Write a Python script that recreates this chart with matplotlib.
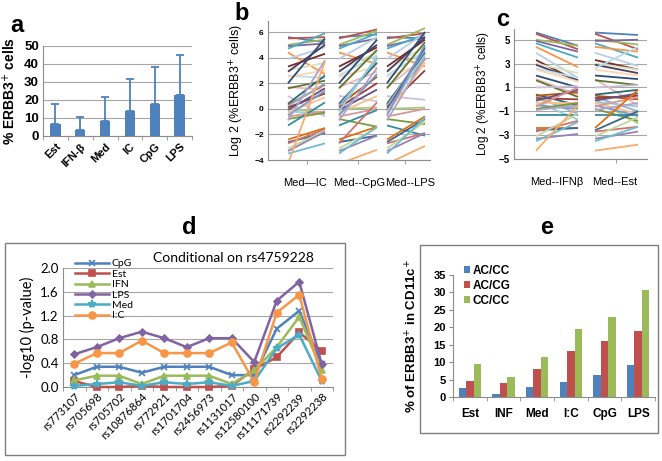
import numpy as np
import matplotlib
matplotlib.use("Agg")
import matplotlib.pyplot as plt
from matplotlib.patches import Rectangle

W, H = 662, 461
plt.rcParams['font.family'] = ['Liberation Sans', 'DejaVu Sans']

# ---- panel a: mean % ERBB3+ cells with upper error bars
a_cats = ['Est', 'IFN-β', 'Med', 'IC', 'CpG', 'LPS']
a_mean = [6.5, 3.5, 8.5, 14.0, 17.5, 22.5]
a_err = [11.5, 6.8, 13.3, 17.5, 21.0, 22.5]

# ---- panels b, c: per-donor log2(% ERBB3+) medium vs stimulated
med = [5.6, 5.5, 5.0, 4.9, 4.7, 4.4, 3.9, 3.3, 3.0, 2.9, 2.6, 2.5, 2.0, 1.7, 1.6, 1.0, 0.4, 0.3,
       0.2, 0.1, 0.0, -0.1, -0.2, -0.3, -0.5, -0.6, -0.8, -0.9, -1.3, -2.4, -2.6, -2.7, -3.1, -3.3, -3.5, -4.3]
ic = [5.2, 5.6, 5.4, 5.1, 5.9, 2.7, 4.8, 4.3, 3.6, 5.0, 2.4, 3.0, 5.5, 1.5, 2.2, -0.6, 2.6, 1.9,
      2.0, 1.2, -0.3, 1.6, -0.4, 0.9, 1.4, -0.2, -0.3, 3.8, 0.5, -1.5, -1.9, -1.6, -1.7, -1.8, -2.7, 3.7]
cpg = [5.8, 6.2, 6.1, 5.5, 5.9, 3.5, 5.6, 4.8, 4.4, 5.0, 4.2, 3.3, 5.4, 2.9, 4.6, 0.6, 3.6, 2.5,
       3.9, 2.0, 0.1, 1.5, 4.1, 1.0, 2.7, 0.0, -1.4, 3.2, -0.1, -1.4, -2.1, 0.5, -1.5, -2.1, -1.4, -3.2]
lps = [5.5, 5.9, 6.3, 5.6, 5.8, 3.3, 5.9, 5.4, 4.9, 5.6, 4.5, 3.6, 6.0, 4.0, 5.2, 0.7, 4.4, 3.9,
       4.6, 3.0, 0.1, 4.8, 4.2, 3.6, 5.0, 0.0, -1.2, 4.0, -2.1, -0.6, -0.8, -1.9, -1.0, -1.9, -0.7, -2.9]
ifnb = [4.5, 4.2, 4.5, 4.0, 3.5, 2.7, 1.8, 1.5, 2.2, 1.6, 1.8, 1.5, 1.0, 0.4, 0.2, 1.1, -0.5, 0.6,
        -1.2, 0.0, -0.7, 0.8, -1.7, -0.3, -0.8, 1.0, -0.3, -0.5, -1.3, -2.4, -2.4, -1.8, -1.2, -2.9, -1.9, -0.5]
est = [5.4, 4.2, 4.6, 5.0, 3.5, 4.0, 2.8, 2.5, 2.5, 2.2, 4.4, 2.0, 1.7, -0.5, 1.2, 1.2, 0.8, 0.0,
       -1.0, 0.3, -2.0, 0.5, -0.6, -1.2, -1.4, 0.2, -1.8, -0.3, -1.3, 0.8, -1.0, -2.3, -1.5, -2.7, -2.3, -3.8]

# ---- panel d: conditional association
snps = ['rs773107', 'rs705698', 'rs705702', 'rs10876864', 'rs772921', 'rs1701704',
        'rs2456973', 'rs1131017', 'rs12580100', 'rs11171739', 'rs2292239', 'rs2292238']
d_series = ['CpG', 'Est', 'IFN', 'LPS', 'Med', 'I:C']
d_cpg = [0.20, 0.34, 0.34, 0.24, 0.34, 0.34, 0.34, 0.20, 0.20, 0.98, 1.28, 0.38]
d_est = [0.10, 0.00, 0.00, 0.02, 0.00, 0.00, 0.00, 0.02, 0.30, 0.50, 0.92, 0.60]
d_ifn = [0.11, 0.19, 0.19, 0.05, 0.19, 0.19, 0.19, 0.05, 0.28, 0.67, 1.18, 0.28]
d_lps = [0.55, 0.67, 0.82, 0.93, 0.82, 0.67, 0.82, 0.82, 0.42, 1.45, 1.77, 0.38]
d_med = [0.02, 0.05, 0.08, 0.02, 0.08, 0.05, 0.08, 0.02, 0.10, 0.65, 0.88, 0.10]
d_ic = [0.39, 0.57, 0.57, 0.78, 0.57, 0.57, 0.57, 0.75, 0.08, 1.25, 1.55, 0.13]

# ---- panel e: by genotype
e_cats = ['Est', 'INF', 'Med', 'I:C', 'CpG', 'LPS']
e_geno = ['AC/CC', 'AC/CG', 'CC/CC']
e_accc = [2.5, 0.8, 2.9, 4.3, 6.2, 9.3]
e_accg = [4.5, 4.1, 8.1, 13.2, 16.0, 18.9]
e_cccc = [9.5, 5.8, 11.4, 19.4, 23.0, 30.8]

blue, red, green, purple, aqua, orange = '#4F81BD', '#C0504D', '#9BBB59', '#8064A2', '#4BACC6', '#F79646'
palette = ['#4F81BD', '#C0504D', '#9BBB59', '#8064A2', '#4BACC6', '#F79646',
           '#B9CDE5', '#772C2A', '#D7E4BD', '#4D3B62', '#B7DEE8', '#FCD5B5',
           '#2C4D75', '#E6B9B8', '#5F7530', '#CCC1DA', '#276A7C', '#B65708',
           '#95B3D7', '#9C3A38', '#AFC97A', '#664F82', '#93CDDD', '#FAC090',
           '#729ACA', '#D99694', '#7D9A3F', '#B3A2C7', '#358DA3', '#E0700E',
           '#3A6595', '#CD7371', '#C3D69B', '#9983B5', '#6FBDD1', '#F9AB6B']
grid_c = '#A6A6A6'
spine_c = '#8C8C8C'

fig = plt.figure(figsize=(W / 100, H / 100), dpi=100)


def px_axes(l, t, r, b):
    return fig.add_axes([l / W, 1 - b / H, (r - l) / W, (b - t) / H])


def excel_axes(ax):
    for s in ['top', 'right']:
        ax.spines[s].set_visible(False)
    ax.spines['left'].set_color(spine_c)
    ax.spines['bottom'].set_color(spine_c)
    ax.yaxis.grid(True, color=grid_c, lw=0.8)
    ax.set_axisbelow(True)
    ax.tick_params(axis='y', length=0, pad=3)


# panel labels
for lab, x, y in [('a', 17, 25), ('b', 242, 14), ('c', 503, 19), ('d', 189, 227), ('e', 547, 227)]:
    fig.text(x / W, 1 - y / H, lab, fontsize=17, fontweight='bold', ha='center', va='center')

# ---------- a
ax = px_axes(43, 46, 192, 136)
excel_axes(ax)
xa = np.arange(len(a_cats))
ax.bar(xa, a_mean, width=0.42, color=blue, zorder=3)
ax.errorbar(xa, a_mean, yerr=[np.zeros(len(a_err)), a_err], fmt='none', ecolor=blue,
            elinewidth=1.3, capsize=3, capthick=1.3, zorder=3)
ax.set_xlim(-0.5, len(a_cats) - 0.5)
ax.set_ylim(0, 50)
ax.set_yticks(range(0, 51, 10))
ax.set_xticks(xa)
ax.set_xticklabels(a_cats, rotation=45, ha='right', rotation_mode='anchor', fontsize=8, fontweight='bold')
ax.set_xticks(np.arange(-0.5, len(a_cats)), minor=True)
ax.tick_params(axis='x', which='major', length=0, pad=4)
ax.tick_params(axis='x', which='minor', length=3, color=spine_c)
for t in ax.get_yticklabels():
    t.set_fontweight('bold')
    t.set_fontsize(9.5)
ax.set_ylabel('% ERBB3$^{+}$ cells', fontsize=10, fontweight='bold', labelpad=4)

# ---------- b
ax = px_axes(268, 21, 430, 160)
excel_axes(ax)
b_pairs = [(ic, 20, 57), (cpg, 71, 109), (lps, 119, 157)]
for stim, x0, x1 in b_pairs:
    for i, (m, s) in enumerate(zip(med, stim)):
        ax.plot([x0, x1], [m, s], color=palette[i % len(palette)], lw=1.3, solid_capstyle='butt')
ax.set_xlim(0, 162)
ax.set_ylim(-4, 6.86)
ax.set_yticks(range(-4, 7, 2))
for t in ax.get_yticklabels():
    t.set_fontweight('bold')
    t.set_fontsize(6)
ax.set_xticks([37, 91, 142])
ax.set_xticklabels(['Med\u2014IC', 'Med--CpG', 'Med--LPS'], fontsize=8)
ax.tick_params(axis='x', which='major', length=0, pad=13)
ax.set_xticks([39, 90, 137], minor=True)
ax.tick_params(axis='x', which='minor', length=3, color=spine_c)
ax.set_ylabel('Log 2 (%ERBB3$^{+}$ cells)', fontsize=9, labelpad=6)

# ---------- c
ax = px_axes(514, 29, 647, 159)
excel_axes(ax)
c_pairs = [(ifnb, 22, 64), (est, 81, 124)]
for stim, x0, x1 in c_pairs:
    for i, (m, s) in enumerate(zip(med, stim)):
        ax.plot([x0, x1], [m, s], color=palette[i % len(palette)], lw=1.3, solid_capstyle='butt')
ax.set_xlim(0, 133)
ax.set_ylim(-5, 5.9)
ax.set_yticks(range(-5, 6, 2))
for t in ax.get_yticklabels():
    t.set_fontweight('bold')
    t.set_fontsize(7)
ax.set_xticks([43, 101])
ax.set_xticklabels(['Med--IFN\u03b2', 'Med--Est'], fontsize=8)
ax.tick_params(axis='x', which='major', length=0, pad=13)
ax.set_xticks([43, 102], minor=True)
ax.tick_params(axis='x', which='minor', length=3, color=spine_c)
ax.set_ylabel('Log 2 (%ERBB3$^{+}$ cells)', fontsize=8.5, labelpad=4)

# ---------- d
fig.patches.append(Rectangle((5 / W, 1 - 455 / H), 340 / W, 212 / H, transform=fig.transFigure,
                             fill=False, edgecolor='#7F7F7F', lw=1))
ax = px_axes(63, 268, 333, 387)
excel_axes(ax)
xd = np.arange(len(snps))
d_vals = [d_cpg, d_est, d_ifn, d_lps, d_med, d_ic]
d_cols = [blue, red, green, purple, aqua, orange]
d_mark = [('x', 5), ('s', 5), ('^', 5), ('D', 3.5), ('*', 6), ('o', 5)]
for name, vals, col, (mk, ms) in zip(d_series, d_vals, d_cols, d_mark):
    ax.plot(xd, vals, color=col, lw=1.8, marker=mk, ms=ms, mew=1.2, label=name, clip_on=False, zorder=3)
ax.set_xlim(-0.5, len(snps) - 0.5)
ax.set_ylim(0, 2.0)
ax.set_yticks(np.arange(0, 2.01, 0.4))
ax.set_yticklabels(['%.1f' % v for v in np.arange(0, 2.01, 0.4)], fontsize=9.5, family='Lato')
ax.set_xticks(xd)
ax.set_xticklabels(snps, rotation=45, ha='right', rotation_mode='anchor', fontsize=8, family='Lato')
ax.set_xticks(np.arange(-0.5, len(snps)), minor=True)
ax.tick_params(axis='x', which='major', length=0, pad=3)
ax.tick_params(axis='x', which='minor', length=3, color=spine_c)
ax.set_ylabel('-log10 (p-value)', fontsize=10.5, family='Lato', labelpad=4)
fig.text(233 / W, 1 - 258 / H, 'Conditional on rs4759228', fontsize=10, family='Lato', ha='center', va='center')
ax.legend(loc='upper left', bbox_to_anchor=(70 / W, 1 - 254 / H), bbox_transform=fig.transFigure,
          frameon=False, prop={'family': 'Lato', 'size': 7.5}, handlelength=3.2, handletextpad=0.3,
          labelspacing=0.1, borderpad=0)

# ---------- e
fig.patches.append(Rectangle((420 / W, 1 - 433 / H), 238 / W, 188 / H, transform=fig.transFigure,
                             fill=False, edgecolor='#7F7F7F', lw=1))
ax = px_axes(453, 275, 655, 397)
for s in ['top', 'right']:
    ax.spines[s].set_visible(False)
ax.spines['left'].set_color(spine_c)
ax.spines['bottom'].set_color(spine_c)
xe = np.arange(len(e_cats))
bw = 0.22
for k, (vals, col, name) in enumerate(zip([e_accc, e_accg, e_cccc], [blue, red, green], e_geno)):
    ax.bar(xe + (k - 1) * bw, vals, width=bw, color=col, label=name)
ax.set_xlim(-0.5, len(e_cats) - 0.5)
ax.set_ylim(0, 35)
ax.set_yticks(range(0, 36, 5))
ax.tick_params(axis='y', length=3, color=spine_c, pad=2)
for t in ax.get_yticklabels():
    t.set_fontweight('bold')
    t.set_fontsize(8)
ax.set_xticks(xe)
ax.set_xticklabels(e_cats, fontsize=8.5, fontweight='bold')
ax.set_xticks(np.arange(-0.5, len(e_cats)), minor=True)
ax.tick_params(axis='x', which='major', length=0, pad=8)
ax.tick_params(axis='x', which='minor', length=3, color=spine_c)
ax.set_ylabel('% of ERBB3$^{+}$ in CD11c$^{+}$', fontsize=9.5, fontweight='bold', labelpad=10)
ax.legend(loc='upper left', bbox_to_anchor=(458 / W, 1 - 259 / H), bbox_transform=fig.transFigure,
          frameon=False, prop={'weight': 'bold', 'size': 8.5}, handlelength=0.55, handleheight=0.55,
          handletextpad=0.2, labelspacing=0.25, borderpad=0)

fig.savefig('out.png', dpi=100, facecolor='white')
